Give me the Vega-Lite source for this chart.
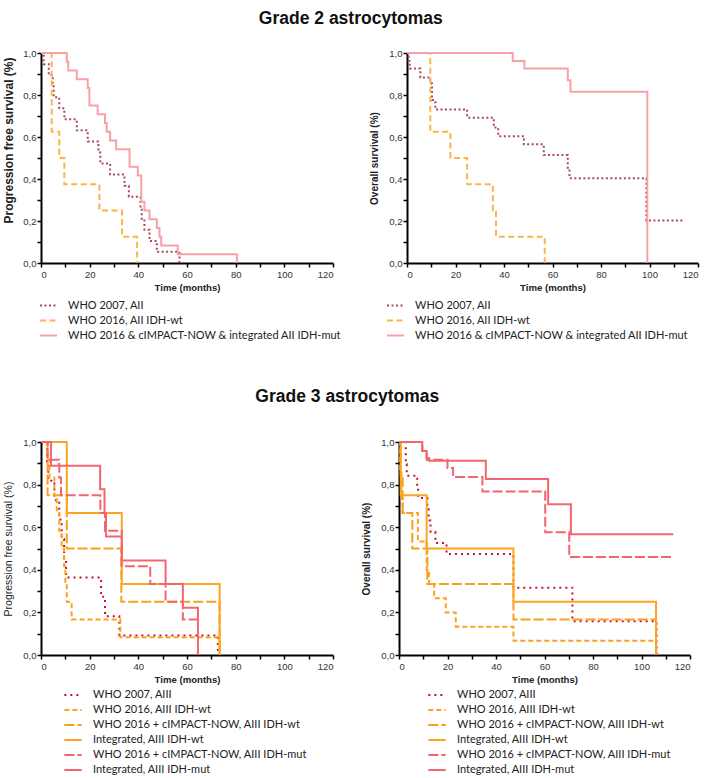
{
  "$schema": "https://vega.github.io/schema/vega-lite/v6.json",
  "padding": {"left": 2, "right": 5, "top": 9, "bottom": 2},
  "datasets": {
    "g2pfs": [
      {"series": "WHO 2007, AII", "t": 0, "s": 1},
      {"series": "WHO 2007, AII", "t": 1.1, "s": 0.947},
      {"series": "WHO 2007, AII", "t": 3.2, "s": 0.895},
      {"series": "WHO 2007, AII", "t": 4.8, "s": 0.842},
      {"series": "WHO 2007, AII", "t": 5.2, "s": 0.789},
      {"series": "WHO 2007, AII", "t": 7.5, "s": 0.737},
      {"series": "WHO 2007, AII", "t": 9.6, "s": 0.684},
      {"series": "WHO 2007, AII", "t": 14.7, "s": 0.632},
      {"series": "WHO 2007, AII", "t": 19.2, "s": 0.579},
      {"series": "WHO 2007, AII", "t": 23.6, "s": 0.526},
      {"series": "WHO 2007, AII", "t": 24.4, "s": 0.474},
      {"series": "WHO 2007, AII", "t": 28.4, "s": 0.421},
      {"series": "WHO 2007, AII", "t": 34.3, "s": 0.368},
      {"series": "WHO 2007, AII", "t": 36.1, "s": 0.316},
      {"series": "WHO 2007, AII", "t": 40.9, "s": 0.263},
      {"series": "WHO 2007, AII", "t": 41.4, "s": 0.211},
      {"series": "WHO 2007, AII", "t": 42.5, "s": 0.158},
      {"series": "WHO 2007, AII", "t": 44.6, "s": 0.105},
      {"series": "WHO 2007, AII", "t": 47.6, "s": 0.053},
      {"series": "WHO 2007, AII", "t": 56.9, "s": 0},
      {"series": "WHO 2016, AII IDH-wt", "t": 0, "s": 1},
      {"series": "WHO 2016, AII IDH-wt", "t": 4.4, "s": 0.625},
      {"series": "WHO 2016, AII IDH-wt", "t": 7.5, "s": 0.5},
      {"series": "WHO 2016, AII IDH-wt", "t": 9.6, "s": 0.375},
      {"series": "WHO 2016, AII IDH-wt", "t": 24, "s": 0.25},
      {"series": "WHO 2016, AII IDH-wt", "t": 33.3, "s": 0.125},
      {"series": "WHO 2016, AII IDH-wt", "t": 39.5, "s": 0},
      {"series": "WHO 2016 & cIMPACT-NOW & integrated AII IDH-mut", "t": 0, "s": 1},
      {"series": "WHO 2016 & cIMPACT-NOW & integrated AII IDH-mut", "t": 10.6, "s": 0.958},
      {"series": "WHO 2016 & cIMPACT-NOW & integrated AII IDH-mut", "t": 11.2, "s": 0.917},
      {"series": "WHO 2016 & cIMPACT-NOW & integrated AII IDH-mut", "t": 14.7, "s": 0.875},
      {"series": "WHO 2016 & cIMPACT-NOW & integrated AII IDH-mut", "t": 19.2, "s": 0.833},
      {"series": "WHO 2016 & cIMPACT-NOW & integrated AII IDH-mut", "t": 19.9, "s": 0.75},
      {"series": "WHO 2016 & cIMPACT-NOW & integrated AII IDH-mut", "t": 23.3, "s": 0.708},
      {"series": "WHO 2016 & cIMPACT-NOW & integrated AII IDH-mut", "t": 26.3, "s": 0.667},
      {"series": "WHO 2016 & cIMPACT-NOW & integrated AII IDH-mut", "t": 27, "s": 0.625},
      {"series": "WHO 2016 & cIMPACT-NOW & integrated AII IDH-mut", "t": 28.4, "s": 0.583},
      {"series": "WHO 2016 & cIMPACT-NOW & integrated AII IDH-mut", "t": 30.9, "s": 0.542},
      {"series": "WHO 2016 & cIMPACT-NOW & integrated AII IDH-mut", "t": 36.4, "s": 0.458},
      {"series": "WHO 2016 & cIMPACT-NOW & integrated AII IDH-mut", "t": 39.8, "s": 0.417},
      {"series": "WHO 2016 & cIMPACT-NOW & integrated AII IDH-mut", "t": 41.2, "s": 0.292},
      {"series": "WHO 2016 & cIMPACT-NOW & integrated AII IDH-mut", "t": 42.5, "s": 0.25},
      {"series": "WHO 2016 & cIMPACT-NOW & integrated AII IDH-mut", "t": 44.6, "s": 0.208},
      {"series": "WHO 2016 & cIMPACT-NOW & integrated AII IDH-mut", "t": 47.6, "s": 0.167},
      {"series": "WHO 2016 & cIMPACT-NOW & integrated AII IDH-mut", "t": 48.7, "s": 0.125},
      {"series": "WHO 2016 & cIMPACT-NOW & integrated AII IDH-mut", "t": 49.4, "s": 0.083},
      {"series": "WHO 2016 & cIMPACT-NOW & integrated AII IDH-mut", "t": 56.2, "s": 0.042},
      {"series": "WHO 2016 & cIMPACT-NOW & integrated AII IDH-mut", "t": 80.5, "s": 0}
    ],
    "g2os": [
      {"series": "WHO 2007, AII", "t": 0, "s": 1},
      {"series": "WHO 2007, AII", "t": 0.7, "s": 0.962},
      {"series": "WHO 2007, AII", "t": 1.1, "s": 0.926},
      {"series": "WHO 2007, AII", "t": 5.5, "s": 0.883},
      {"series": "WHO 2007, AII", "t": 9.6, "s": 0.855},
      {"series": "WHO 2007, AII", "t": 10.3, "s": 0.776},
      {"series": "WHO 2007, AII", "t": 11.7, "s": 0.731},
      {"series": "WHO 2007, AII", "t": 24.8, "s": 0.692},
      {"series": "WHO 2007, AII", "t": 35.8, "s": 0.645},
      {"series": "WHO 2007, AII", "t": 37.6, "s": 0.604},
      {"series": "WHO 2007, AII", "t": 48.2, "s": 0.565},
      {"series": "WHO 2007, AII", "t": 56.4, "s": 0.514},
      {"series": "WHO 2007, AII", "t": 66.3, "s": 0.454},
      {"series": "WHO 2007, AII", "t": 67, "s": 0.404},
      {"series": "WHO 2007, AII", "t": 98.7, "s": 0.202},
      {"series": "WHO 2007, AII", "t": 114.2, "s": 0.202},
      {"series": "WHO 2016, AII IDH-wt", "t": 0, "s": 1},
      {"series": "WHO 2016, AII IDH-wt", "t": 9.6, "s": 0.625},
      {"series": "WHO 2016, AII IDH-wt", "t": 17.9, "s": 0.5},
      {"series": "WHO 2016, AII IDH-wt", "t": 24.8, "s": 0.375},
      {"series": "WHO 2016, AII IDH-wt", "t": 35.4, "s": 0.25},
      {"series": "WHO 2016, AII IDH-wt", "t": 36.7, "s": 0.125},
      {"series": "WHO 2016, AII IDH-wt", "t": 56.8, "s": 0},
      {"series": "WHO 2016 & cIMPACT-NOW & integrated AII IDH-mut", "t": 0, "s": 1},
      {"series": "WHO 2016 & cIMPACT-NOW & integrated AII IDH-mut", "t": 43.6, "s": 0.962},
      {"series": "WHO 2016 & cIMPACT-NOW & integrated AII IDH-mut", "t": 48.4, "s": 0.926},
      {"series": "WHO 2016 & cIMPACT-NOW & integrated AII IDH-mut", "t": 66.3, "s": 0.87},
      {"series": "WHO 2016 & cIMPACT-NOW & integrated AII IDH-mut", "t": 67.4, "s": 0.815},
      {"series": "WHO 2016 & cIMPACT-NOW & integrated AII IDH-mut", "t": 99.1, "s": 0}
    ],
    "g3pfs": [
      {"series": "WHO 2007, AIII", "t": 0, "s": 1},
      {"series": "WHO 2007, AIII", "t": 2.5, "s": 0.909},
      {"series": "WHO 2007, AIII", "t": 3, "s": 0.818},
      {"series": "WHO 2007, AIII", "t": 5.5, "s": 0.727},
      {"series": "WHO 2007, AIII", "t": 7.5, "s": 0.636},
      {"series": "WHO 2007, AIII", "t": 8.5, "s": 0.545},
      {"series": "WHO 2007, AIII", "t": 9.5, "s": 0.455},
      {"series": "WHO 2007, AIII", "t": 10.3, "s": 0.364},
      {"series": "WHO 2007, AIII", "t": 24.7, "s": 0.273},
      {"series": "WHO 2007, AIII", "t": 26.3, "s": 0.182},
      {"series": "WHO 2007, AIII", "t": 32.2, "s": 0.091},
      {"series": "WHO 2007, AIII", "t": 72.7, "s": 0},
      {"series": "WHO 2016, AIII IDH-wt", "t": 0, "s": 1},
      {"series": "WHO 2016, AIII IDH-wt", "t": 2.7, "s": 0.917},
      {"series": "WHO 2016, AIII IDH-wt", "t": 3.5, "s": 0.833},
      {"series": "WHO 2016, AIII IDH-wt", "t": 5.5, "s": 0.75},
      {"series": "WHO 2016, AIII IDH-wt", "t": 6.5, "s": 0.667},
      {"series": "WHO 2016, AIII IDH-wt", "t": 7.5, "s": 0.583},
      {"series": "WHO 2016, AIII IDH-wt", "t": 8.5, "s": 0.5},
      {"series": "WHO 2016, AIII IDH-wt", "t": 9.5, "s": 0.417},
      {"series": "WHO 2016, AIII IDH-wt", "t": 10, "s": 0.333},
      {"series": "WHO 2016, AIII IDH-wt", "t": 10.6, "s": 0.25},
      {"series": "WHO 2016, AIII IDH-wt", "t": 12.6, "s": 0.167},
      {"series": "WHO 2016, AIII IDH-wt", "t": 32.6, "s": 0.083},
      {"series": "WHO 2016, AIII IDH-wt", "t": 73.4, "s": 0},
      {"series": "WHO 2016 + cIMPACT-NOW, AIII IDH-wt", "t": 0, "s": 1},
      {"series": "WHO 2016 + cIMPACT-NOW, AIII IDH-wt", "t": 2.7, "s": 0.75},
      {"series": "WHO 2016 + cIMPACT-NOW, AIII IDH-wt", "t": 10.6, "s": 0.5},
      {"series": "WHO 2016 + cIMPACT-NOW, AIII IDH-wt", "t": 33, "s": 0.25},
      {"series": "WHO 2016 + cIMPACT-NOW, AIII IDH-wt", "t": 73.4, "s": 0},
      {"series": "Integrated, AIII IDH-wt", "t": 0, "s": 1},
      {"series": "Integrated, AIII IDH-wt", "t": 10.6, "s": 0.667},
      {"series": "Integrated, AIII IDH-wt", "t": 33.2, "s": 0.333},
      {"series": "Integrated, AIII IDH-wt", "t": 73.4, "s": 0},
      {"series": "WHO 2016 + cIMPACT-NOW, AIII IDH-mut", "t": 0, "s": 1},
      {"series": "WHO 2016 + cIMPACT-NOW, AIII IDH-mut", "t": 2.7, "s": 0.917},
      {"series": "WHO 2016 + cIMPACT-NOW, AIII IDH-mut", "t": 7.5, "s": 0.833},
      {"series": "WHO 2016 + cIMPACT-NOW, AIII IDH-mut", "t": 8.2, "s": 0.75},
      {"series": "WHO 2016 + cIMPACT-NOW, AIII IDH-mut", "t": 24.4, "s": 0.667},
      {"series": "WHO 2016 + cIMPACT-NOW, AIII IDH-mut", "t": 26.3, "s": 0.583},
      {"series": "WHO 2016 + cIMPACT-NOW, AIII IDH-mut", "t": 33.2, "s": 0.417},
      {"series": "WHO 2016 + cIMPACT-NOW, AIII IDH-mut", "t": 44.9, "s": 0.333},
      {"series": "WHO 2016 + cIMPACT-NOW, AIII IDH-mut", "t": 51.2, "s": 0.25},
      {"series": "WHO 2016 + cIMPACT-NOW, AIII IDH-mut", "t": 58.3, "s": 0.167},
      {"series": "WHO 2016 + cIMPACT-NOW, AIII IDH-mut", "t": 64.5, "s": 0.167},
      {"series": "Integrated, AIII IDH-mut", "t": 0, "s": 1},
      {"series": "Integrated, AIII IDH-mut", "t": 4.1, "s": 0.889},
      {"series": "Integrated, AIII IDH-mut", "t": 24.3, "s": 0.778},
      {"series": "Integrated, AIII IDH-mut", "t": 26.1, "s": 0.667},
      {"series": "Integrated, AIII IDH-mut", "t": 26.7, "s": 0.556},
      {"series": "Integrated, AIII IDH-mut", "t": 33.2, "s": 0.444},
      {"series": "Integrated, AIII IDH-mut", "t": 51.2, "s": 0.333},
      {"series": "Integrated, AIII IDH-mut", "t": 58.3, "s": 0.222},
      {"series": "Integrated, AIII IDH-mut", "t": 64.5, "s": 0}
    ],
    "g3os": [
      {"series": "WHO 2007, AIII", "t": 0, "s": 1},
      {"series": "WHO 2007, AIII", "t": 2.8, "s": 0.895},
      {"series": "WHO 2007, AIII", "t": 3.2, "s": 0.842},
      {"series": "WHO 2007, AIII", "t": 7.5, "s": 0.789},
      {"series": "WHO 2007, AIII", "t": 7.9, "s": 0.737},
      {"series": "WHO 2007, AIII", "t": 11.7, "s": 0.684},
      {"series": "WHO 2007, AIII", "t": 12.2, "s": 0.632},
      {"series": "WHO 2007, AIII", "t": 13, "s": 0.579},
      {"series": "WHO 2007, AIII", "t": 15, "s": 0.526},
      {"series": "WHO 2007, AIII", "t": 19.6, "s": 0.474},
      {"series": "WHO 2007, AIII", "t": 47.2, "s": 0.316},
      {"series": "WHO 2007, AIII", "t": 71.5, "s": 0.158},
      {"series": "WHO 2007, AIII", "t": 106.2, "s": 0},
      {"series": "WHO 2016, AIII IDH-wt", "t": 0, "s": 1},
      {"series": "WHO 2016, AIII IDH-wt", "t": 0.5, "s": 0.867},
      {"series": "WHO 2016, AIII IDH-wt", "t": 1, "s": 0.733},
      {"series": "WHO 2016, AIII IDH-wt", "t": 1.5, "s": 0.667},
      {"series": "WHO 2016, AIII IDH-wt", "t": 7.8, "s": 0.533},
      {"series": "WHO 2016, AIII IDH-wt", "t": 11.4, "s": 0.4},
      {"series": "WHO 2016, AIII IDH-wt", "t": 12.4, "s": 0.333},
      {"series": "WHO 2016, AIII IDH-wt", "t": 14.5, "s": 0.267},
      {"series": "WHO 2016, AIII IDH-wt", "t": 19.3, "s": 0.2},
      {"series": "WHO 2016, AIII IDH-wt", "t": 23.4, "s": 0.133},
      {"series": "WHO 2016, AIII IDH-wt", "t": 47.2, "s": 0.067},
      {"series": "WHO 2016, AIII IDH-wt", "t": 106, "s": 0},
      {"series": "WHO 2016 + cIMPACT-NOW, AIII IDH-wt", "t": 0, "s": 1},
      {"series": "WHO 2016 + cIMPACT-NOW, AIII IDH-wt", "t": 0.7, "s": 0.833},
      {"series": "WHO 2016 + cIMPACT-NOW, AIII IDH-wt", "t": 1.5, "s": 0.667},
      {"series": "WHO 2016 + cIMPACT-NOW, AIII IDH-wt", "t": 5.5, "s": 0.5},
      {"series": "WHO 2016 + cIMPACT-NOW, AIII IDH-wt", "t": 11.7, "s": 0.333},
      {"series": "WHO 2016 + cIMPACT-NOW, AIII IDH-wt", "t": 47.2, "s": 0.167},
      {"series": "WHO 2016 + cIMPACT-NOW, AIII IDH-wt", "t": 106, "s": 0},
      {"series": "Integrated, AIII IDH-wt", "t": 0, "s": 1},
      {"series": "Integrated, AIII IDH-wt", "t": 0.7, "s": 0.75},
      {"series": "Integrated, AIII IDH-wt", "t": 11.4, "s": 0.5},
      {"series": "Integrated, AIII IDH-wt", "t": 47.2, "s": 0.25},
      {"series": "Integrated, AIII IDH-wt", "t": 106, "s": 0},
      {"series": "WHO 2016 + cIMPACT-NOW, AIII IDH-mut", "t": 0, "s": 1},
      {"series": "WHO 2016 + cIMPACT-NOW, AIII IDH-mut", "t": 9.6, "s": 0.958},
      {"series": "WHO 2016 + cIMPACT-NOW, AIII IDH-mut", "t": 11.4, "s": 0.917},
      {"series": "WHO 2016 + cIMPACT-NOW, AIII IDH-mut", "t": 20, "s": 0.878},
      {"series": "WHO 2016 + cIMPACT-NOW, AIII IDH-mut", "t": 22.3, "s": 0.836},
      {"series": "WHO 2016 + cIMPACT-NOW, AIII IDH-mut", "t": 34.4, "s": 0.768},
      {"series": "WHO 2016 + cIMPACT-NOW, AIII IDH-mut", "t": 60.3, "s": 0.576},
      {"series": "WHO 2016 + cIMPACT-NOW, AIII IDH-mut", "t": 70.2, "s": 0.46},
      {"series": "WHO 2016 + cIMPACT-NOW, AIII IDH-mut", "t": 113.1, "s": 0.46},
      {"series": "Integrated, AIII IDH-mut", "t": 0, "s": 1},
      {"series": "Integrated, AIII IDH-mut", "t": 9.6, "s": 0.958},
      {"series": "Integrated, AIII IDH-mut", "t": 11.4, "s": 0.925},
      {"series": "Integrated, AIII IDH-mut", "t": 12.4, "s": 0.912},
      {"series": "Integrated, AIII IDH-mut", "t": 35.8, "s": 0.826},
      {"series": "Integrated, AIII IDH-mut", "t": 61.5, "s": 0.708},
      {"series": "Integrated, AIII IDH-mut", "t": 70.9, "s": 0.567},
      {"series": "Integrated, AIII IDH-mut", "t": 113.1, "s": 0.567}
    ]
  },
  "config": {
    "view": {"stroke": null},
    "font": "Liberation Sans",
    "axis": {
      "grid": false,
      "domainColor": "#000",
      "domainWidth": 2,
      "tickColor": "#000",
      "tickWidth": 1.5,
      "tickSize": 4,
      "labelFont": "Liberation Sans",
      "labelFontSize": 9.5,
      "labelColor": "#333",
      "labelPadding": 1,
      "titleFont": "Liberation Sans",
      "titleFontSize": 9.6,
      "titleFontWeight": "bold",
      "titleColor": "#222"
    },
    "axisX": {"titlePadding": 4, "labelPadding": 2},
    "axisY": {"titlePadding": 9},
    "legend": {
      "orient": "none",
      "padding": 0,
      "labelFont": "Lato",
      "labelFontSize": 11,
      "labelColor": "#222",
      "labelLimit": 0,
      "symbolType": "stroke",
      "symbolStrokeWidth": 3,
      "labelOffset": 10,
      "title": null
    },
    "line": {"strokeWidth": 2, "interpolate": "step-after", "strokeCap": "butt"}
  },
  "spacing": 46,
  "vconcat": [
    {
      "title": {"text": "Grade 2 astrocytomas", "anchor": "middle", "fontSize": 17.5, "font": "Liberation Sans", "fontWeight": "bold", "color": "#111", "offset": 21},
      "spacing": 27,
      "resolve": {"scale": {"color": "independent", "strokeDash": "independent"}, "legend": {"color": "independent", "strokeDash": "independent"}},
      "hconcat": [
        {
          "width": 292, "height": 210,
          "data": {"name": "g2pfs"},
          "mark": {"type": "line"},
          "encoding": {
            "x": {"field": "t", "type": "quantitative", "scale": {"domain": [0, 120], "nice": false},
              "axis": {"title": "Time (months)", "values": [0,10,20,30,40,50,60,70,80,90,100,110,120], "labelExpr": "datum.value % 20 == 0 ? datum.label : ''"}},
            "y": {"field": "s", "type": "quantitative", "scale": {"domain": [0, 1], "nice": false},
              "axis": {"title": "Progression free survival (%)", "titleFontSize": 12, "titleY": 87, "titlePadding": 7, "values": [0,0.1,0.2,0.3,0.4,0.5,0.6,0.7,0.8,0.9,1], "labelExpr": "round(datum.value*10) % 2 == 0 ? replace(format(datum.value, '.1f'), '.', ',') : ''"}},
            "color": {"field": "series", "type": "nominal",
              "scale": {"domain": ["WHO 2007, AII", "WHO 2016, AII IDH-wt", "WHO 2016 & cIMPACT-NOW & integrated AII IDH-mut"], "range": ["#a64a5c", "#fbb54a", "#f9a0a6"]},
              "legend": {"legendX": -2, "legendY": 243, "rowPadding": -1.7, "symbolSize": 289}},
            "strokeDash": {"field": "series", "type": "nominal",
              "scale": {"domain": ["WHO 2007, AII", "WHO 2016, AII IDH-wt", "WHO 2016 & cIMPACT-NOW & integrated AII IDH-mut"], "range": [[2, 2.5], [6, 3.5], [1, 0]]},
              "legend": {"legendX": -2, "legendY": 243, "rowPadding": -1.7, "symbolSize": 289}}
          }
        },
        {
          "width": 291, "height": 210,
          "data": {"name": "g2os"},
          "mark": {"type": "line"},
          "encoding": {
            "x": {"field": "t", "type": "quantitative", "scale": {"domain": [0, 120], "nice": false},
              "axis": {"title": "Time (months)", "values": [0,10,20,30,40,50,60,70,80,90,100,110,120], "labelExpr": "datum.value % 20 == 0 ? datum.label : ''"}},
            "y": {"field": "s", "type": "quantitative", "scale": {"domain": [0, 1], "nice": false},
              "axis": {"title": "Overall survival (%)", "titleFontSize": 10, "values": [0,0.1,0.2,0.3,0.4,0.5,0.6,0.7,0.8,0.9,1], "labelExpr": "round(datum.value*10) % 2 == 0 ? replace(format(datum.value, '.1f'), '.', ',') : ''"}},
            "color": {"field": "series", "type": "nominal",
              "scale": {"domain": ["WHO 2007, AII", "WHO 2016, AII IDH-wt", "WHO 2016 & cIMPACT-NOW & integrated AII IDH-mut"], "range": ["#a64a5c", "#fbb54a", "#f9a0a6"]},
              "legend": {"legendX": -21, "legendY": 243, "rowPadding": -1.7, "symbolSize": 289}},
            "strokeDash": {"field": "series", "type": "nominal",
              "scale": {"domain": ["WHO 2007, AII", "WHO 2016, AII IDH-wt", "WHO 2016 & cIMPACT-NOW & integrated AII IDH-mut"], "range": [[2, 2.5], [6, 3.5], [1, 0]]},
              "legend": {"legendX": -21, "legendY": 243, "rowPadding": -1.7, "symbolSize": 289}}
          }
        }
      ]
    },
    {
      "title": {"text": "Grade 3 astrocytomas", "anchor": "middle", "fontSize": 17.5, "font": "Liberation Sans", "fontWeight": "bold", "color": "#111", "offset": 32},
      "spacing": 27,
      "resolve": {"scale": {"color": "independent", "strokeDash": "independent"}, "legend": {"color": "independent", "strokeDash": "independent"}},
      "hconcat": [
        {
          "width": 292, "height": 213,
          "data": {"name": "g3pfs"},
          "mark": {"type": "line"},
          "encoding": {
            "x": {"field": "t", "type": "quantitative", "scale": {"domain": [0, 120], "nice": false},
              "axis": {"title": "Time (months)", "values": [0,10,20,30,40,50,60,70,80,90,100,110,120], "labelExpr": "datum.value % 20 == 0 ? datum.label : ''"}},
            "y": {"field": "s", "type": "quantitative", "scale": {"domain": [0, 1], "nice": false},
              "axis": {"title": "Progression free survival (%)", "titleFontSize": 10.5, "titleFontWeight": "normal", "values": [0,0.1,0.2,0.3,0.4,0.5,0.6,0.7,0.8,0.9,1], "labelExpr": "round(datum.value*10) % 2 == 0 ? replace(format(datum.value, '.1f'), '.', ',') : ''"}},
            "color": {"field": "series", "type": "nominal",
              "scale": {"domain": ["WHO 2007, AIII", "WHO 2016, AIII IDH-wt", "WHO 2016 + cIMPACT-NOW, AIII IDH-wt", "Integrated, AIII IDH-wt", "WHO 2016 + cIMPACT-NOW, AIII IDH-mut", "Integrated, AIII IDH-mut"], "range": ["#c2142c", "#ffa01a", "#f9a01e", "#fba521", "#f4646d", "#f4666e"]},
              "legend": {"legendX": 22, "legendY": 243, "rowPadding": -5.3, "symbolSize": 300}},
            "strokeDash": {"field": "series", "type": "nominal",
              "scale": {"domain": ["WHO 2007, AIII", "WHO 2016, AIII IDH-wt", "WHO 2016 + cIMPACT-NOW, AIII IDH-wt", "Integrated, AIII IDH-wt", "WHO 2016 + cIMPACT-NOW, AIII IDH-mut", "Integrated, AIII IDH-mut"], "range": [[2, 4], [5, 3], [10, 3], [1, 0], [10, 3], [1, 0]]},
              "legend": {"legendX": 22, "legendY": 243, "rowPadding": -5.3, "symbolSize": 300}}
          }
        },
        {
          "width": 291, "height": 213,
          "data": {"name": "g3os"},
          "mark": {"type": "line"},
          "encoding": {
            "x": {"field": "t", "type": "quantitative", "scale": {"domain": [0, 120], "nice": false},
              "axis": {"title": "Time (months)", "values": [0,10,20,30,40,50,60,70,80,90,100,110,120], "labelExpr": "datum.value % 20 == 0 ? datum.label : ''"}},
            "y": {"field": "s", "type": "quantitative", "scale": {"domain": [0, 1], "nice": false},
              "axis": {"title": "Overall survival (%)", "titleFontSize": 10, "values": [0,0.1,0.2,0.3,0.4,0.5,0.6,0.7,0.8,0.9,1], "labelExpr": "round(datum.value*10) % 2 == 0 ? replace(format(datum.value, '.1f'), '.', ',') : ''"}},
            "color": {"field": "series", "type": "nominal",
              "scale": {"domain": ["WHO 2007, AIII", "WHO 2016, AIII IDH-wt", "WHO 2016 + cIMPACT-NOW, AIII IDH-wt", "Integrated, AIII IDH-wt", "WHO 2016 + cIMPACT-NOW, AIII IDH-mut", "Integrated, AIII IDH-mut"], "range": ["#c2142c", "#ffa01a", "#f9a01e", "#fba521", "#f4646d", "#f4666e"]},
              "legend": {"legendX": 28, "legendY": 243, "rowPadding": -5.3, "symbolSize": 300}},
            "strokeDash": {"field": "series", "type": "nominal",
              "scale": {"domain": ["WHO 2007, AIII", "WHO 2016, AIII IDH-wt", "WHO 2016 + cIMPACT-NOW, AIII IDH-wt", "Integrated, AIII IDH-wt", "WHO 2016 + cIMPACT-NOW, AIII IDH-mut", "Integrated, AIII IDH-mut"], "range": [[2, 4], [5, 3], [10, 3], [1, 0], [10, 3], [1, 0]]},
              "legend": {"legendX": 28, "legendY": 243, "rowPadding": -5.3, "symbolSize": 300}}
          }
        }
      ]
    }
  ]
}
